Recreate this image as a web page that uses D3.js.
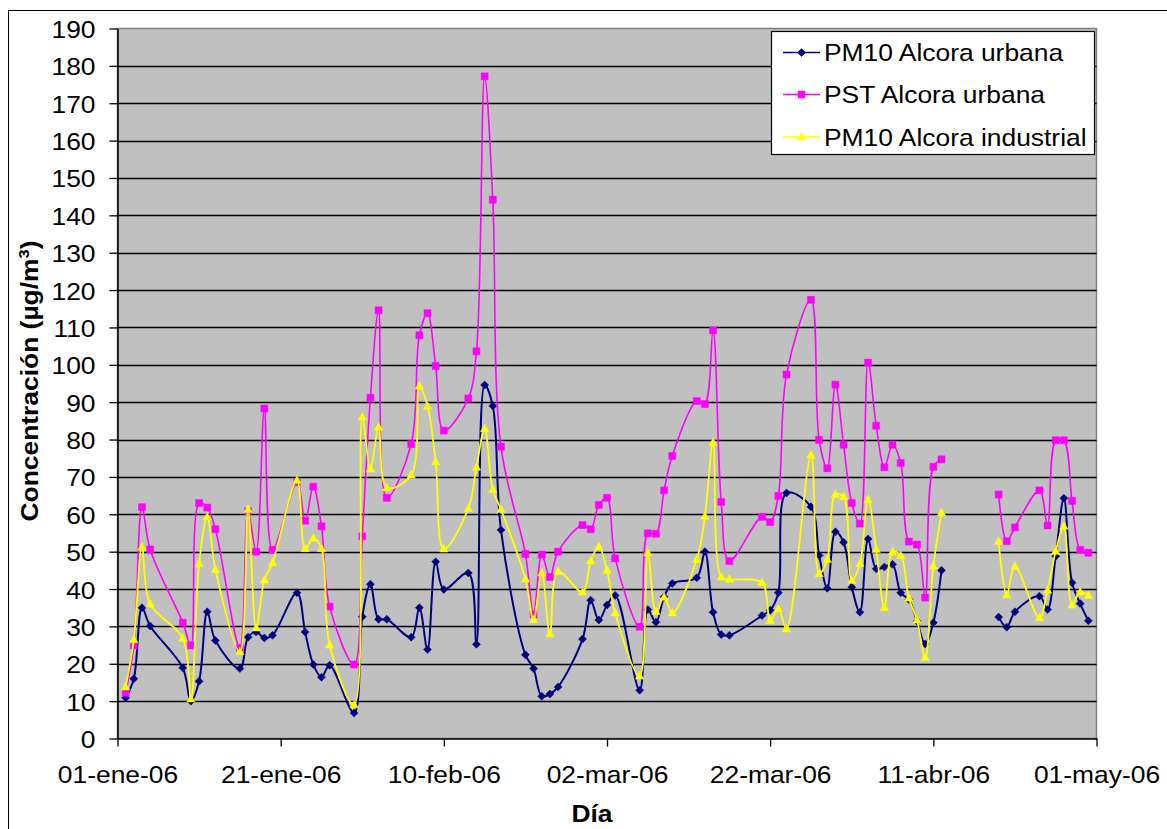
<!DOCTYPE html>
<html>
<head>
<meta charset="utf-8">
<script src="https://cdn.jsdelivr.net/npm/d3@7"></script>
<style>
  html, body { margin: 0; padding: 0; background: #fff; }
  svg { display: block; }
  text { font-family: "Liberation Sans", Arial, sans-serif; fill: #000; }
</style>
</head>
<body>
<svg id="chart" width="1167" height="829"></svg>
<script>
// Sampling days (weekdays, 2006)
const dates = [
  "2006-01-02","2006-01-03","2006-01-04","2006-01-05",
  "2006-01-09","2006-01-10","2006-01-11","2006-01-12","2006-01-13",
  "2006-01-16","2006-01-17","2006-01-18","2006-01-19","2006-01-20",
  "2006-01-23","2006-01-24","2006-01-25","2006-01-26","2006-01-27",
  "2006-01-30","2006-01-31","2006-02-01","2006-02-02","2006-02-03",
  "2006-02-06","2006-02-07","2006-02-08","2006-02-09","2006-02-10",
  "2006-02-13","2006-02-14","2006-02-15","2006-02-16","2006-02-17",
  "2006-02-20","2006-02-21","2006-02-22","2006-02-23","2006-02-24",
  "2006-02-27","2006-02-28","2006-03-01","2006-03-02","2006-03-03",
  "2006-03-06","2006-03-07","2006-03-08","2006-03-09","2006-03-10",
  "2006-03-13","2006-03-14","2006-03-15","2006-03-16","2006-03-17",
  "2006-03-21","2006-03-22","2006-03-23","2006-03-24",
  "2006-03-27","2006-03-28","2006-03-29","2006-03-30","2006-03-31",
  "2006-04-01","2006-04-02","2006-04-03","2006-04-04","2006-04-05",
  "2006-04-06","2006-04-07","2006-04-08","2006-04-09","2006-04-10",
  "2006-04-11","2006-04-12",
  "2006-04-19","2006-04-20","2006-04-21",
  "2006-04-24","2006-04-25","2006-04-26","2006-04-27","2006-04-28",
  "2006-04-29","2006-04-30"
];

// PM10 Alcora urbana (µg/m³)
const pm10Urbana = [
  10.9, 16.0, 35.0, 30.1,
  18.9, 10.0, 15.3, 33.9, 26.2,
  18.7, 27.1, 28.5, 26.9, 27.6,
  39.0, 28.5, 19.8, 16.4, 19.6,
  6.8, 32.6, 41.3, 31.9, 31.9,
  27.1, 35.0, 23.8, 47.3, 39.9,
  44.3, 25.2, 94.6, 89.0, 55.8,
  22.4, 18.7, 11.3, 11.9, 13.8,
  26.6, 37.0, 31.7, 35.7, 38.3,
  12.9, 34.5, 31.1, 37.9, 41.5,
  43.0, 50.0, 33.8, 27.8, 27.6,
  32.9, 34.3, 39.0, 65.7,
  62.0, 49.0, 40.2, 55.3, 52.5,
  40.5, 33.8, 53.4, 45.4, 45.9,
  46.6, 39.0, 37.2, 31.4, 25.3,
  31.0, 45.0,
  32.5, 29.8, 33.9,
  38.1, 34.5, 48.8, 64.3, 41.7,
  36.1, 31.5
];

// PST Alcora urbana (µg/m³)
const pstUrbana = [
  12.2, 24.9, 61.9, 50.6,
  31.0, 24.9, 63.0, 61.8, 56.0,
  24.3, 60.8, 50.0, 88.3, 50.5,
  68.6, 58.3, 67.4, 56.8, 35.3,
  19.8, 54.1, 91.2, 114.6, 64.4,
  78.8, 107.9, 113.8, 99.7, 82.4,
  91.0, 103.6, 177.2, 144.2, 78.1,
  49.4, 33.2, 49.2, 43.2, 50.0,
  57.1, 56.0, 62.5, 64.4, 48.2,
  29.9, 54.9, 54.8, 66.4, 75.6,
  90.3, 89.5, 109.2, 63.3, 47.5,
  59.3, 57.9, 64.9, 97.4,
  117.4, 79.9, 72.3, 94.7, 78.6,
  63.0, 57.5, 100.6, 83.7, 72.6,
  78.6, 73.7, 52.7, 51.9, 37.7,
  72.7, 74.7,
  65.3, 52.8, 56.5,
  66.4, 57.0, 79.8, 79.8, 63.6,
  50.5, 49.7
];

// PM10 Alcora industrial (µg/m³)
const pm10Industrial = [
  13.8, 26.4, 51.2, 36.0,
  26.8, 10.6, 46.8, 59.3, 45.2,
  23.2, 61.3, 29.6, 42.4, 47.0,
  69.1, 50.8, 53.6, 50.8, 25.0,
  9.0, 86.0, 72.1, 83.3, 67.1,
  70.5, 94.3, 88.9, 74.0, 50.7,
  61.5, 72.6, 82.9, 66.6, 61.3,
  42.7, 31.8, 44.3, 28.0, 44.7,
  39.2, 47.5, 51.3, 45.0, 33.6,
  16.7, 49.7, 34.0, 37.8, 33.6,
  47.9, 59.5, 79.2, 43.2, 42.6,
  41.7, 31.6, 34.7, 29.3,
  75.8, 44.1, 47.9, 65.3, 64.7,
  42.3, 46.8, 63.9, 50.6, 35.0,
  50.0, 49.0, 37.6, 31.7, 21.6,
  46.1, 60.4,
  52.7, 38.4, 46.1,
  32.3, 39.7, 50.1, 56.8, 35.7,
  39.2, 38.3
];

const seriesNames = ["PM10 Alcora urbana", "PST Alcora urbana", "PM10 Alcora industrial"];
const seriesColors = ["#000080", "#FF00FF", "#FFFF00"];

const xTickDates = ["2006-01-01","2006-01-21","2006-02-10","2006-03-02","2006-03-22","2006-04-11","2006-05-01"];
const xTickLabels = ["01-ene-06","21-ene-06","10-feb-06","02-mar-06","22-mar-06","11-abr-06","01-may-06"];
const yTickValues = [0,10,20,30,40,50,60,70,80,90,100,110,120,130,140,150,160,170,180,190];

const yTitle = "Concentración (µg/m";
const xTitle = "Día";

// ---- layout ----
const svg = d3.select("#chart");
const parse = d3.utcParse("%Y-%m-%d");
const plot = { left: 117.5, right: 1096.5, top: 28.5, bottom: 738.5 };
const STRETCH = 1.1;   // text is drawn slightly wide

const x = d3.scaleUtc()
  .domain([parse(xTickDates[0]), parse(xTickDates[xTickDates.length - 1])])
  .range([plot.left, plot.right]);
const y = d3.scaleLinear().domain([0, 190]).range([plot.bottom, plot.top]);

// outer chart frame
svg.append("rect")
  .attr("x", 8.5).attr("y", 10.5)
  .attr("width", 1200).attr("height", 900)
  .attr("fill", "#fff").attr("stroke", "#000").attr("stroke-width", 1);

// plot background
svg.append("rect")
  .attr("x", plot.left).attr("y", plot.top)
  .attr("width", plot.right - plot.left).attr("height", plot.bottom - plot.top)
  .attr("fill", "#C0C0C0").attr("stroke", "#808080").attr("stroke-width", 1.5);

// horizontal grid lines
svg.append("g")
  .selectAll("line")
  .data(yTickValues.filter(v => v > 0 && v < 190))
  .join("line")
  .attr("x1", plot.left).attr("x2", plot.right)
  .attr("y1", d => Math.round(y(d)) + 0.5).attr("y2", d => Math.round(y(d)) + 0.5)
  .attr("stroke", "#000").attr("stroke-width", 1.3);

// y axis
const yAxis = svg.append("g")
  .attr("transform", `translate(${plot.left},0)`)
  .call(d3.axisLeft(y).tickValues(yTickValues).tickSize(8).tickSizeOuter(0).tickFormat(d3.format("d")));
yAxis.select(".domain").attr("stroke", "#000").attr("stroke-width", 1.5);
yAxis.selectAll(".tick line").attr("stroke", "#000").attr("stroke-width", 1.3);
yAxis.selectAll(".tick text").remove();
yAxis.selectAll(".tick").append("text")
  .attr("transform", `translate(-22,9) scale(${STRETCH},1)`)
  .attr("text-anchor", "end")
  .style("font-size", "24px")
  .text(d => d3.format("d")(d));

// x axis
const xAxis = svg.append("g")
  .attr("transform", `translate(0,${plot.bottom})`)
  .call(d3.axisBottom(x).tickValues(xTickDates.map(parse)).tickSize(8).tickSizeOuter(0).tickFormat(() => ""));
xAxis.select(".domain").attr("stroke", "#000").attr("stroke-width", 1.5);
xAxis.selectAll(".tick line").attr("stroke", "#000").attr("stroke-width", 1.3);
xAxis.selectAll(".tick text").remove();
xAxis.selectAll(".tick").append("text")
  .attr("transform", `translate(0,44) scale(${STRETCH},1)`)
  .attr("text-anchor", "middle")
  .style("font-size", "24px")
  .text((d, i) => xTickLabels[i]);

// axis titles
const yt = svg.append("text")
  .attr("transform", `translate(38,381) rotate(-90) scale(${STRETCH},1)`)
  .attr("text-anchor", "middle")
  .style("font-size", "24px").style("font-weight", "bold");
yt.append("tspan").text(yTitle);
yt.append("tspan").attr("dy", -9).style("font-size", "15px").text("3");
yt.append("tspan").attr("dy", 9).text(")");

svg.append("text")
  .attr("transform", `translate(592,822) scale(${STRETCH},1)`)
  .attr("text-anchor", "middle")
  .style("font-size", "24px").style("font-weight", "bold")
  .text(xTitle);

// ---- series ----
const allValues = [pm10Urbana, pstUrbana, pm10Industrial];
const parsedDates = dates.map(parse);
const DAY = 86400000;

const markerPath = [
  "M0,-4L4,0L0,4L-4,0Z",                 // diamond
  "M-3.5,-3.5L3.5,-3.5L3.5,3.5L-3.5,3.5Z", // square
  "M0,-4.5L4.2,3L-4.2,3Z"                 // triangle
];
const lineWidths = [2, 1.6, 1.8];

const line = d3.line()
  .x(d => x(d.date))
  .y(d => y(d.value))
  .curve(d3.curveCatmullRom.alpha(0.5));

allValues.forEach((vals, si) => {
  const pts = parsedDates.map((d, i) => ({ date: d, value: vals[i] }));
  // break the line where sampling stops for more than a working week
  const segments = [];
  let cur = [];
  pts.forEach((p, i) => {
    if (i > 0 && (p.date - pts[i - 1].date) / DAY > 5) { segments.push(cur); cur = []; }
    cur.push(p);
  });
  segments.push(cur);

  const g = svg.append("g");
  g.selectAll("path.ln")
    .data(segments)
    .join("path")
    .attr("class", "ln")
    .attr("d", line)
    .attr("fill", "none")
    .attr("stroke", seriesColors[si])
    .attr("stroke-width", lineWidths[si]);

  g.selectAll("path.mk")
    .data(pts)
    .join("path")
    .attr("class", "mk")
    .attr("transform", d => `translate(${x(d.date)},${y(d.value)})`)
    .attr("d", markerPath[si])
    .attr("fill", seriesColors[si])
    .attr("stroke", seriesColors[si])
    .attr("stroke-width", 0.5);
});

// ---- legend ----
const legend = svg.append("g");
legend.append("rect")
  .attr("x", 771.5).attr("y", 31.5).attr("width", 323).attr("height", 123)
  .attr("fill", "#fff").attr("stroke", "#000").attr("stroke-width", 1.2);

const legendRowsY = [52.5, 94.5, 137];
seriesNames.forEach((name, i) => {
  const ly = legendRowsY[i];
  legend.append("line")
    .attr("x1", 783).attr("x2", 820).attr("y1", ly).attr("y2", ly)
    .attr("stroke", seriesColors[i]).attr("stroke-width", 1.6);
  legend.append("path")
    .attr("transform", `translate(801.5,${ly})`)
    .attr("d", markerPath[i])
    .attr("fill", seriesColors[i])
    .attr("stroke", seriesColors[i]).attr("stroke-width", 0.5);
  legend.append("text")
    .attr("transform", `translate(824,${ly + 8.5}) scale(${STRETCH},1)`)
    .style("font-size", "24px")
    .text(name);
});
</script>
</body>
</html>
